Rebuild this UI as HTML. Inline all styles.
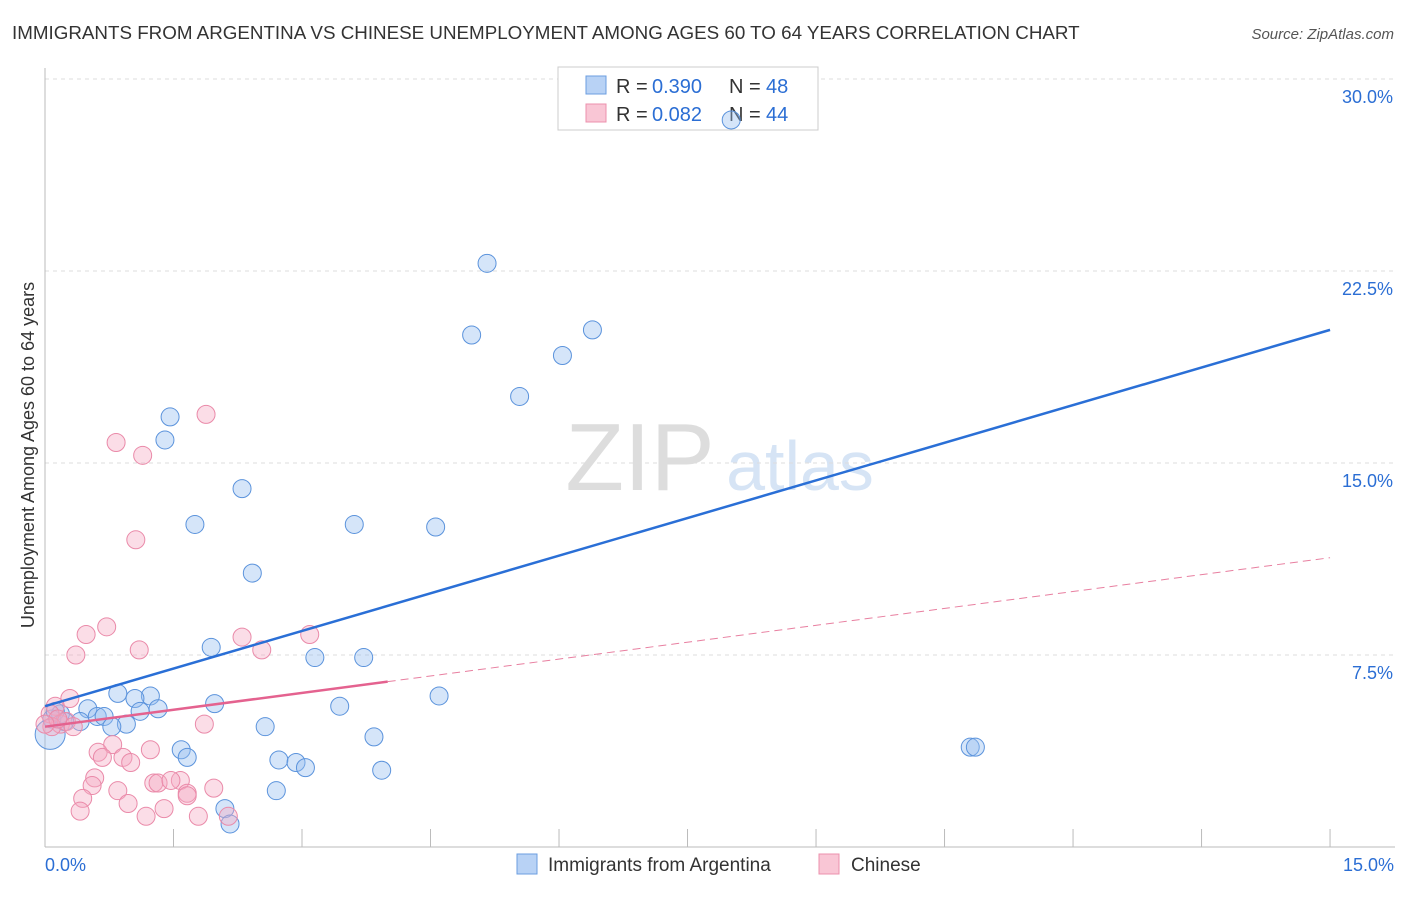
<!DOCTYPE html>
<html><head><meta charset="utf-8"><style>
body{margin:0;background:#fff;font-family:"Liberation Sans",sans-serif}
svg text{font-family:"Liberation Sans",sans-serif}
</style></head><body>
<svg id="c" width="1406" height="892">
<text x="12" y="39" font-size="18.8" fill="#333">IMMIGRANTS FROM ARGENTINA VS CHINESE UNEMPLOYMENT AMONG AGES 60 TO 64 YEARS CORRELATION CHART</text>
<text x="1394" y="39" font-size="15" fill="#555" text-anchor="end" font-style="italic">Source: ZipAtlas.com</text>
<text x="640" y="490" font-size="96" fill="#ddd" font-family="Liberation Serif" text-anchor="middle">ZIP</text>
<text x="800" y="490" font-size="70" fill="#d6e4f5" text-anchor="middle">atlas</text>
<g id="grid"></g><g id="axes"></g>
<g>
<rect x="558" y="67" width="260" height="63" fill="#fff" stroke="#ccc"/>
<rect x="586" y="76" width="20" height="18" fill="#b8d2f5" stroke="#6b9ee0"/>
<rect x="586" y="104" width="20" height="18" fill="#f9c6d5" stroke="#ec90ad"/>
<text x="616" y="93" font-size="20" fill="#333">R =</text><text x="652" y="93" font-size="20" fill="#2b6ed4">0.390</text>
<text x="729" y="93" font-size="20" fill="#333">N =</text><text x="766" y="93" font-size="20" fill="#2b6ed4">48</text>
<text x="616" y="121" font-size="20" fill="#333">R =</text><text x="652" y="121" font-size="20" fill="#2b6ed4">0.082</text>
<text x="729" y="121" font-size="20" fill="#333">N =</text><text x="766" y="121" font-size="20" fill="#2b6ed4">44</text>
</g>
<g id="pts"></g><g id="lines"></g>
<text x="34" y="455" font-size="18" fill="#333" text-anchor="middle" transform="rotate(-90 34 455)">Unemployment Among Ages 60 to 64 years</text>
<g>
<rect x="517" y="854" width="20" height="20" fill="#b8d2f5" stroke="#6b9ee0"/>
<text x="548" y="871" font-size="19" fill="#333">Immigrants from Argentina</text>
<rect x="819" y="854" width="20" height="20" fill="#f9c6d5" stroke="#ec90ad"/>
<text x="851" y="871" font-size="19" fill="#333">Chinese</text>
</g>
</svg>
<script>
const blueX=[8.01,5.16,4.98,6.39,6.04,5.54,1.46,1.40,2.30,1.75,3.61,4.56,2.42,1.94,3.15,3.72,0.85,1.23,1.05,4.60,3.44,1.98,1.32,1.11,0.50,0.61,0.69,0.41,0.18,0.08,0.95,0.78,2.57,3.84,1.59,1.66,2.73,2.93,3.04,3.93,2.70,2.10,2.16,10.80,10.86,0.06,0.12,0.23];
const blueY=[28.4,22.8,20.0,20.2,19.2,17.6,16.8,15.9,14.0,12.6,12.6,12.5,10.7,7.8,7.4,7.4,6.0,5.9,5.8,5.9,5.5,5.6,5.4,5.3,5.4,5.1,5.1,4.9,5.2,5.0,4.8,4.7,4.7,4.3,3.8,3.5,3.4,3.3,3.1,3.0,2.2,1.5,0.9,3.9,3.9,4.4,5.3,4.9];
const blueR=[10,10,10,10,10,10,10,10,10,10,10,10,10,10,10,10,10,10,10,10,10,10,10,10,10,10,10,10,10,10,10,10,10,10,10,10,10,10,10,10,10,10,10,10,10,16,10,10];
const pinkX=[1.88,0.83,1.14,1.06,0.72,0.48,0.36,2.30,1.10,2.53,3.09,0.29,0.12,0.06,0.18,0.25,0.33,1.86,0.79,0.62,0.67,1.23,0.91,1.00,0.58,0.55,1.58,1.27,1.32,1.47,1.66,1.97,0.85,0.97,0.44,0.41,1.39,1.18,1.79,2.14,1.66,0.08,0.15,0.00];
const pinkY=[16.9,15.8,15.3,12.0,8.6,8.3,7.5,8.2,7.7,7.7,8.3,5.8,5.5,5.2,4.8,4.9,4.7,4.8,4.0,3.7,3.5,3.8,3.5,3.3,2.7,2.4,2.6,2.5,2.5,2.6,2.1,2.3,2.2,1.7,1.9,1.4,1.5,1.2,1.2,1.2,2.0,4.7,5.0,4.8];
const xTicks=[0,1.5,3,4.5,6,7.5,9,10.5,12,13.5,15];
const yTicks=[7.5,15,22.5,30];
const yLabels=["7.5%","15.0%","22.5%","30.0%"];
const blueFit=[5.5,20.2];
const pinkFit=[4.7,11.3];
const pinkSolidEnd=4.0;
const X=v=>45+v*85.67, Y=v=>847-v*25.6;
const NS="http://www.w3.org/2000/svg";
function mk(t,a,p){const e=document.createElementNS(NS,t);for(const k in a)e.setAttribute(k,a[k]);document.getElementById(p).appendChild(e);return e;}
yTicks.forEach((v,i)=>{
 const l=mk('line',{x1:45,x2:1395,y1:Y(v),y2:Y(v),stroke:'#ddd','stroke-dasharray':'4 4'},'grid');
 
 
 const t=mk('text',{x:1393,y:Y(v)+24,'font-size':18,fill:'#2b6ed4','text-anchor':'end'},'grid');
 t.textContent=yLabels[i];
 
 
});
mk('line',{x1:45,x2:45,y1:68,y2:847,stroke:'#bbb'},'axes');
mk('line',{x1:45,x2:1395,y1:847,y2:847,stroke:'#bbb'},'axes');
xTicks.forEach(v=>{const l=mk('line',{x1:X(v),x2:X(v),y1:829,y2:847,stroke:'#bbb'},'axes');
 
 });
[[0,"0.0%","start",45],[15,"15.0%","end",1394]].forEach(a=>{const t=mk('text',{x:a[3],y:871,'font-size':18,fill:'#2b6ed4','text-anchor':a[2]},'axes');t.textContent=a[1];
 
 });
blueX.forEach((v,i)=>{const c=mk('circle',{cx:X(v),cy:Y(blueY[i]),r:blueR[i]-1,fill:'rgba(150,190,240,0.4)',stroke:'#5b93dc','stroke-width':1},'pts');
 
 });
pinkX.forEach((v,i)=>{const c=mk('circle',{cx:X(v),cy:Y(pinkY[i]),r:9,fill:'rgba(245,170,195,0.4)',stroke:'#ea8aa9','stroke-width':1},'pts');
 
 });
const bl=mk('line',{x1:X(0),y1:Y(blueFit[0]),x2:X(15),y2:Y(blueFit[1]),stroke:'#2a6fd6','stroke-width':2.5},'lines');


const pe=pinkFit[0]+(pinkFit[1]-pinkFit[0])*pinkSolidEnd/15;
const pd=mk('line',{x1:X(pinkSolidEnd),y1:Y(pe),x2:X(15),y2:Y(pinkFit[1]),stroke:'#e87fa0','stroke-width':1,'stroke-dasharray':'8 5'},'lines');


const ps=mk('line',{x1:X(0),y1:Y(pinkFit[0]),x2:X(pinkSolidEnd),y2:Y(pe),stroke:'#e4628f','stroke-width':2.5},'lines');


</script>
</body></html>
